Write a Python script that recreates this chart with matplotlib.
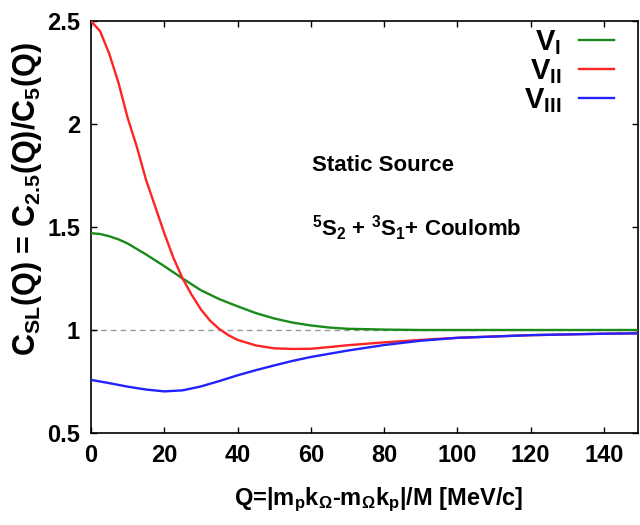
import matplotlib
matplotlib.use("Agg")
import matplotlib.pyplot as plt

# ---- data ----
q_green = [0, 2.5, 5, 7.5, 10, 15, 20, 25, 30, 35, 40, 45, 50, 55, 60, 65, 70, 80, 90, 100, 120, 140, 150]
v1 = [1.47, 1.466, 1.455, 1.44, 1.42, 1.367, 1.31, 1.25, 1.193, 1.15, 1.115, 1.082, 1.056,
      1.036, 1.022, 1.012, 1.006, 1.002, 1.0, 1.0, 1.0, 1.0, 1.0]

q_red = [0, 2.5, 5, 7.5, 10, 12.5, 15, 17.5, 20, 22.5, 25, 27.5, 30, 32.5, 35, 37.5, 40, 45,
         50, 55, 60, 65, 70, 80, 90, 100, 120, 140, 150]
v2 = [2.50, 2.45, 2.34, 2.20, 2.03, 1.89, 1.73, 1.60, 1.47, 1.35, 1.25, 1.17, 1.10, 1.045,
      1.005, 0.975, 0.952, 0.925, 0.911, 0.908, 0.909, 0.917, 0.926, 0.94, 0.952, 0.962,
      0.975, 0.982, 0.984]

q_blue = [0, 5, 10, 15, 20, 25, 30, 35, 40, 45, 50, 55, 60, 70, 80, 90, 100, 120, 140, 150]
v3 = [0.758, 0.742, 0.725, 0.711, 0.702, 0.707, 0.726, 0.752, 0.78, 0.805, 0.828, 0.85,
      0.869, 0.90, 0.927, 0.948, 0.962, 0.975, 0.982, 0.984]

series_labels = [r'$\mathbf{V_{I}}$', r'$\mathbf{V_{II}}$', r'$\mathbf{V_{III}}$']
x_ticks = [0, 20, 40, 60, 80, 100, 120, 140]
y_ticks = [0.5, 1, 1.5, 2, 2.5]
y_tick_labels = ['0.5', '1', '1.5', '2', '2.5']

plt.rcParams['font.family'] = ['Liberation Sans', 'DejaVu Sans']
plt.rcParams['font.weight'] = 'bold'
plt.rcParams['mathtext.fontset'] = 'custom'
plt.rcParams['mathtext.rm'] = 'Liberation Sans:bold'
plt.rcParams['mathtext.it'] = 'Liberation Sans:bold'
plt.rcParams['mathtext.bf'] = 'Liberation Sans:bold'
plt.rcParams['mathtext.sf'] = 'Liberation Sans:bold'

fig = plt.figure(figsize=(6.4, 5.25), dpi=100)
ax = fig.add_axes([91 / 640, 1 - 433 / 525, (638 - 91) / 640, (433 - 21) / 525])

ax.axhline(1.0, color='#9a9a9a', lw=1.0, ls=(0, (4, 3)), zorder=1)
ax.plot(q_green, v1, color='#1a8a1a', lw=1.7, label=series_labels[0], zorder=3)
ax.plot(q_red, v2, color='#ff2424', lw=1.7, label=series_labels[1], zorder=3)
ax.plot(q_blue, v3, color='#2222ff', lw=1.7, label=series_labels[2], zorder=3)

ax.set_xlim(0, 149.3)
ax.set_ylim(0.5, 2.5)
ax.set_xticks(x_ticks)
ax.set_xticklabels([str(t) for t in x_ticks])
ax.set_yticks(y_ticks)
ax.set_yticklabels(y_tick_labels)
ax.tick_params(direction='in', length=4, width=1, top=True, right=True,
               labelsize=17, pad=8)
for lab in ax.get_xticklabels() + ax.get_yticklabels():
    lab.set_fontweight('bold')
for s in ax.spines.values():
    s.set_linewidth(1.2)

ax.set_xlabel(r'Q=|m$_\mathregular{p}$k$_\Omega$-m$_\Omega$k$_\mathregular{p}$|/M [MeV/c]',
              fontsize=17, fontweight='bold')
ax.xaxis.set_label_coords((379 - 91) / 547, (433 - 486) / 412)
ax.set_ylabel(r'C$_\mathregular{SL}$(Q) = C$_\mathregular{2.5}$(Q)/C$_\mathregular{5}$(Q)',
              fontsize=22, fontweight='bold')
ax.yaxis.set_label_coords((44 - 91) / 547, (433 - 199) / 412)

ax.text(60.3, 1.80, 'Static Source', fontsize=16, fontweight='bold', va='center', ha='left')
ax.text(60.3, 1.495, r'$^\mathregular{5}$S$_\mathregular{2}$ + $^\mathregular{3}$S$_\mathregular{1}$+ Coulomb',
        fontsize=16, fontweight='bold', va='center', ha='left')

leg = ax.legend(loc='upper right', bbox_to_anchor=(0.988, 1.025), frameon=False,
                markerfirst=False, fontsize=21, handlelength=1.2, labelspacing=0.0,
                handletextpad=0.6, borderaxespad=0.2)

fig.savefig('out.png', dpi=100)
